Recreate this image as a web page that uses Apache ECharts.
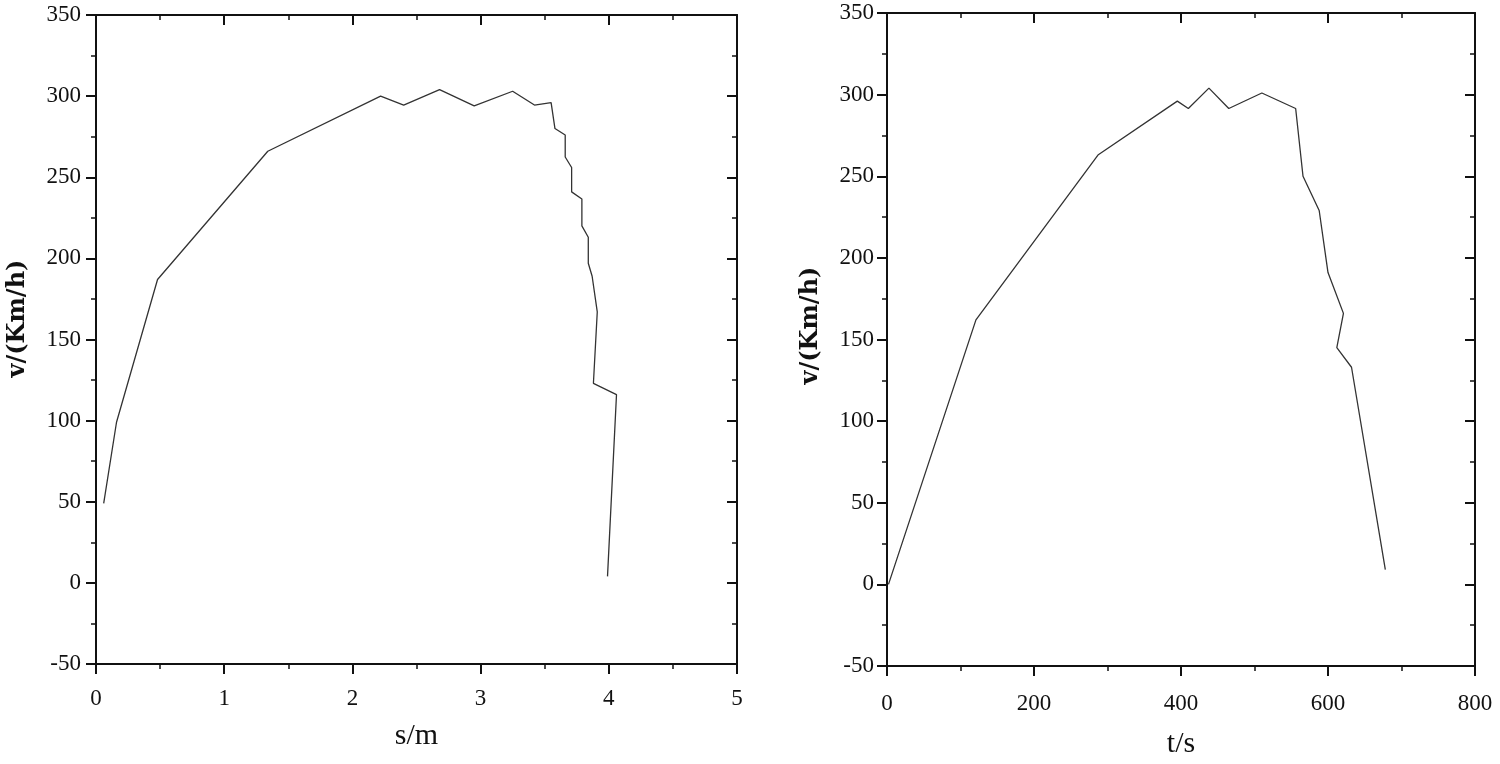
<!DOCTYPE html>
<html>
<head>
<meta charset="utf-8">
<script src="https://cdn.jsdelivr.net/npm/echarts@6/dist/echarts.min.js"></script>
<style>
  html, body { margin: 0; padding: 0; background: #fff; }
  #chart { width: 1500px; height: 764px; }
</style>
</head>
<body>
<div id="chart"></div>
<script>
// 左图：距离-速度
var distS = [0.06, 0.16, 0.48, 1.34, 2.22, 2.40, 2.68, 2.95, 3.25, 3.42, 3.55, 3.58, 3.66, 3.66, 3.71, 3.71, 3.79, 3.79, 3.84, 3.84, 3.87, 3.91, 3.88, 4.06, 3.99];
var distV = [49, 99, 187, 266, 300, 294.5, 304, 294, 303, 294.5, 296, 280, 276, 262.5, 256, 241, 236.6, 220, 213, 197, 189, 167, 123, 116, 4];

// 右图：时间-速度
var timeT = [2, 121, 287, 395, 410, 438, 465, 510, 556, 566, 588, 600, 621, 612, 632, 678];
var timeV = [0, 162, 263, 296, 291.5, 304, 291.5, 301, 291.5, 250, 229, 191, 166, 145, 133, 9];

var xName1 = 's/m';
var xName2 = 't/s';
var yName = 'v/(Km/h)';

var font = '"Liberation Serif", "DejaVu Serif", serif';
var black = '#111';

function pairs(xs, ys) {
    var out = [];
    for (var i = 0; i < xs.length; i++) out.push([xs[i], ys[i]]);
    return out;
}

// 坐标轴工厂：主轴带标签，对侧轴只画框线和内刻度
function xAxis(idx, pos, max, interval, name, gap, margin) {
    var main = pos === 'bottom';
    return {
        type: 'value', gridIndex: idx, position: pos,
        min: 0, max: max, interval: interval,
        name: main ? name : '', nameLocation: 'middle', nameGap: gap,
        nameTextStyle: {fontFamily: font, fontSize: 30, color: black, verticalAlign: 'top'},
        axisLine: {show: true, onZero: false, lineStyle: {color: black, width: 2}},
        axisTick: {show: true, inside: !main, length: 10, lineStyle: {color: black, width: 2}},
        minorTick: {show: true, splitNumber: 2, length: 5, lineStyle: {color: black, width: 1.5}},
        axisLabel: {show: main, margin: margin, fontFamily: font, fontSize: 23, color: black},
        splitLine: {show: false}
    };
}

// shift: 名称沿轴向上偏移（用左内边距实现）
function yAxis(idx, pos, gap, margin, shift) {
    var main = pos === 'left';
    return {
        type: 'value', gridIndex: idx, position: pos,
        min: -50, max: 350, interval: 50,
        name: main ? yName : '', nameLocation: 'middle', nameGap: gap,
        nameTextStyle: {
            fontFamily: '"DejaVu Serif", "Liberation Serif", serif', fontSize: 24,
            fontWeight: 'bold', color: black, padding: [0, 0, 0, shift || 0]
        },
        axisLine: {show: true, onZero: false, lineStyle: {color: black, width: 2}},
        axisTick: {show: true, inside: !main, length: 10, lineStyle: {color: black, width: 2}},
        minorTick: {show: true, splitNumber: 2, length: 5, lineStyle: {color: black, width: 1.5}},
        axisLabel: {show: main, margin: margin, fontFamily: font, fontSize: 23, color: black},
        splitLine: {show: false}
    };
}

var chart = echarts.init(document.getElementById('chart'));
var option = {
    backgroundColor: '#fff',
    animation: false,
    grid: [
        {left: 96, right: 763, top: 15, bottom: 100, outerBoundsMode: 'none'},
        {left: 887, right: 25, top: 13, bottom: 98, outerBoundsMode: 'none'}
    ],
    xAxis: [
        xAxis(0, 'bottom', 5, 1, xName1, 57, 23),
        xAxis(0, 'top', 5, 1, '', 0, 0),
        xAxis(1, 'bottom', 800, 200, xName2, 63, 26),
        xAxis(1, 'top', 800, 200, '', 0, 0)
    ],
    yAxis: [
        yAxis(0, 'left', 66, 15, 42),
        yAxis(0, 'right', 0, 0),
        yAxis(1, 'left', 64, 13, 28),
        yAxis(1, 'right', 0, 0)
    ],
    series: [
        {
            type: 'line', xAxisIndex: 0, yAxisIndex: 0,
            data: pairs(distS, distV),
            showSymbol: false, symbol: 'none',
            lineStyle: {color: '#333', width: 1.3}
        },
        {
            type: 'line', xAxisIndex: 2, yAxisIndex: 2,
            data: pairs(timeT, timeV),
            showSymbol: false, symbol: 'none',
            lineStyle: {color: '#333', width: 1.3}
        }
    ]
};
chart.setOption(option);
</script>
</body>
</html>
